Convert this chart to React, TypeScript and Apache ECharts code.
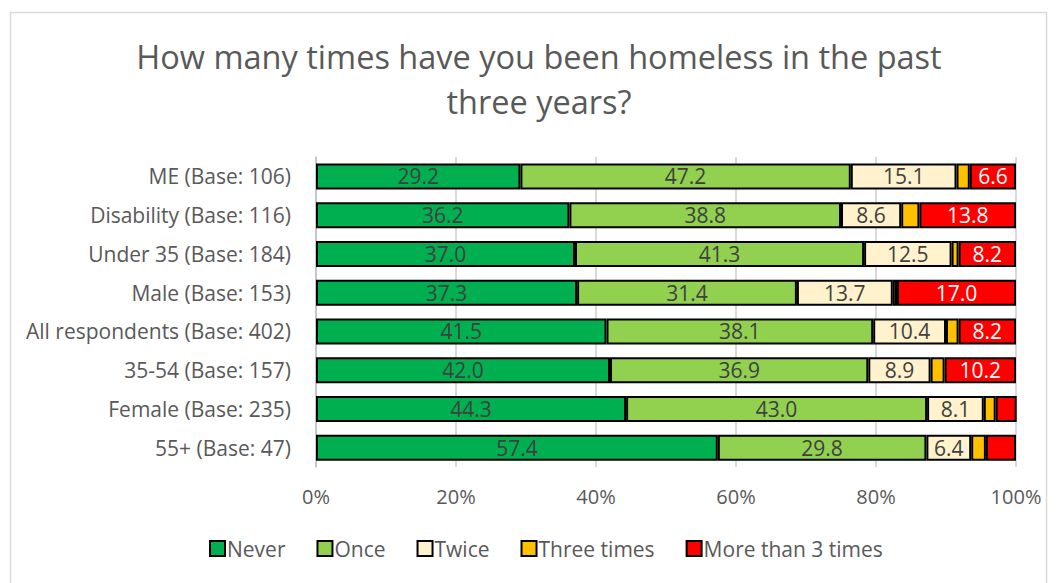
import React, { useEffect, useRef } from "react";
import * as echarts from "echarts";

const categories = [
  "ME (Base: 106)",
  "Disability (Base: 116)",
  "Under 35 (Base: 184)",
  "Male (Base: 153)",
  "All respondents (Base: 402)",
  "35-54 (Base: 157)",
  "Female (Base: 235)",
  "55+ (Base: 47)",
];
const never = [29.2, 36.2, 37.0, 37.3, 41.5, 42.0, 44.3, 57.4];
const once = [47.2, 38.8, 41.3, 31.4, 38.1, 36.9, 43.0, 29.8];
const twice = [15.1, 8.6, 12.5, 13.7, 10.4, 8.9, 8.1, 6.4];
const threeTimes = [1.9, 2.6, 1.0, 0.6, 1.8, 2.0, 1.7, 2.1];
const moreThan3 = [6.6, 13.8, 8.2, 17.0, 8.2, 10.2, 3.0, 4.3];
const xTicks = [0, 20, 40, 60, 80, 100];

const FONT = "'Open Sans', sans-serif";
const GREY = "#595959";

export default function App() {
  const ref = useRef<HTMLDivElement>(null);
  useEffect(() => {
    document.body.style.margin = "0";
    const chart = echarts.init(ref.current!, undefined, { renderer: "svg" });
    const mk = (name: string, data: number[], color: string, labelColor: string, showLabel: boolean) => ({
      name,
      type: "bar",
      stack: "total",
      data,
      barWidth: 26,
      itemStyle: { color, borderColor: "#000", borderWidth: 2 },
      label: {
        show: showLabel,
        position: "inside",
        color: labelColor,
        fontSize: 21,
        fontFamily: FONT,
        formatter: (p: any) => (p.value >= 5 ? Number(p.value).toFixed(1) : ""),
      },
    });
    chart.setOption({
      animation: false,
      textStyle: { fontFamily: FONT },
      title: {
        text: "How many times have you been homeless in the past\nthree years?",
        left: 534,
        textAlign: "center",
        top: 29,
        textStyle: { fontSize: 32.5, fontWeight: "normal", color: GREY, lineHeight: 45, fontFamily: FONT },
      },
      graphic: [
        {
          type: "rect",
          shape: { x: 10.5, y: 12.5, width: 1036, height: 575 },
          style: { fill: "none", stroke: "#d9d9d9", lineWidth: 1.5 },
          silent: true,
        },
      ],
      grid: { left: 316, right: 41, top: 157, bottom: 116, containLabel: false },
      xAxis: {
        type: "value",
        min: xTicks[0],
        max: xTicks[xTicks.length - 1],
        interval: 20,
        axisLabel: { formatter: "{value}%", color: GREY, fontSize: 20, margin: 19, fontFamily: FONT },
        axisLine: { show: false },
        axisTick: { show: false },
        splitLine: { show: true, lineStyle: { color: "#d9d9d9", width: 2 } },
      },
      yAxis: {
        type: "category",
        data: categories,
        inverse: true,
        axisLine: { show: true, lineStyle: { color: "#bfbfbf", width: 1.5 } },
        axisTick: { show: false },
        axisLabel: { color: GREY, fontSize: 21, margin: 25, fontFamily: FONT },
      },
      legend: {
        top: 533,
        left: 204,
        itemWidth: 15,
        itemHeight: 15,
        itemGap: 31,
        icon: "rect",
        textStyle: { color: GREY, fontSize: 21, fontFamily: FONT, padding: [0, 0, 0, -3] },
        data: ["Never", "Once", "Twice", "Three times", "More than 3 times"],
      },
      series: [
        mk("Never", never, "#00b050", "#404040", true),
        mk("Once", once, "#92d050", "#404040", true),
        mk("Twice", twice, "#fff2cc", "#404040", true),
        mk("Three times", threeTimes, "#ffc000", "#404040", false),
        mk("More than 3 times", moreThan3, "#ff0000", "#ffffff", true),
      ],
    });
    return () => chart.dispose();
  }, []);
  return <div ref={ref} style={{ width: 1057, height: 583 }} />;
}
